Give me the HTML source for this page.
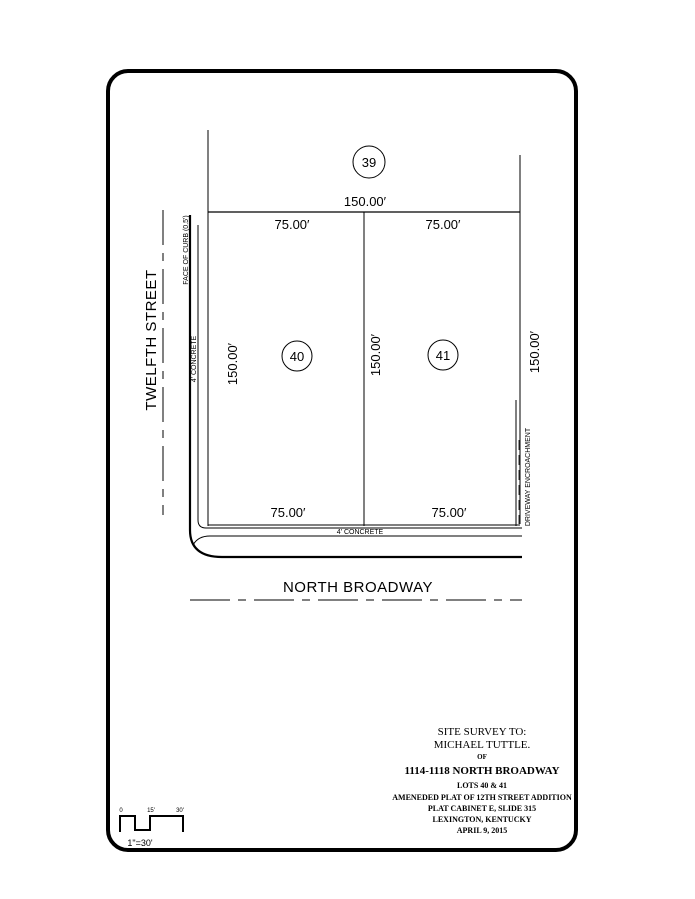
<!DOCTYPE html>
<html><head><style>body{margin:0;background:#fff}svg{display:block}</style></head>
<body>
<svg width="695" height="899" viewBox="0 0 695 899" xmlns="http://www.w3.org/2000/svg" font-family="Liberation Sans, sans-serif">
<rect x="108" y="71" width="468" height="779" rx="20" fill="none" stroke="#000" stroke-width="4"/>
<g stroke="#000" fill="none">
<line x1="208" y1="130" x2="208" y2="526" stroke-width="1"/>
<line x1="520" y1="155" x2="520" y2="524" stroke-width="1"/>
<line x1="208" y1="212" x2="520" y2="212" stroke-width="1.3"/>
<line x1="364" y1="212" x2="364" y2="526" stroke-width="1"/>
<line x1="208" y1="525" x2="520" y2="525" stroke-width="1"/>
<path d="M190 215 V530 Q190 557 222 557 H522" stroke-width="2.2"/>
<path d="M198 225 V520 Q198 528 206 528 H522" stroke-width="1"/>
<path d="M193 545 Q198 536 210 536 H522" stroke-width="1"/>
<line x1="516" y1="400" x2="516" y2="526" stroke-width="1"/>
<line x1="519" y1="440" x2="519" y2="524" stroke-width="0.8" stroke-dasharray="10,5"/>
<line x1="163" y1="210" x2="163" y2="515" stroke-width="1" stroke-dasharray="35,8,8,8"/>
<line x1="190" y1="600" x2="522" y2="600" stroke-width="1" stroke-dasharray="40,8,8,8"/>
<circle cx="369" cy="162" r="16" stroke-width="1"/>
<circle cx="297" cy="356" r="15" stroke-width="1"/>
<circle cx="443" cy="355" r="15" stroke-width="1"/>
<path d="M120 832 V816 H135 V830 H150 V816 H183 V832" stroke-width="2"/>
</g>
<g font-size="13" text-anchor="middle" fill="#000">
<text x="369" y="167">39</text>
<text x="297" y="361">40</text>
<text x="443" y="360">41</text>
<text x="365" y="206">150.00′</text>
<text x="292" y="229">75.00′</text>
<text x="443" y="229">75.00′</text>
<text x="288" y="517">75.00′</text>
<text x="449" y="517">75.00′</text>
<text transform="translate(237,364) rotate(-90)">150.00′</text>
<text transform="translate(380,355) rotate(-90)">150.00′</text>
<text transform="translate(539,352) rotate(-90)">150.00′</text>
<text x="358" y="592" font-size="15" letter-spacing="0.5">NORTH  BROADWAY</text>
<text transform="translate(156,340) rotate(-90)" font-size="15" letter-spacing="0.5">TWELFTH  STREET</text>
<text transform="translate(188,250) rotate(-90)" font-size="7">FACE OF CURB (0.5')</text>
<text transform="translate(196,359) rotate(-90)" font-size="7">4' CONCRETE</text>
<text x="360" y="534" font-size="7">4' CONCRETE</text>
<text transform="translate(530,477) rotate(-90)" font-size="7">DRIVEWAY ENCROACHMENT</text>
<text x="121" y="812" font-size="6">0</text>
<text x="151" y="812" font-size="6">15'</text>
<text x="180" y="812" font-size="6">30'</text>
<text x="140" y="846" font-size="9">1"=30'</text>
</g>
<g font-family="Liberation Serif, serif" text-anchor="middle" fill="#000" font-weight="bold">
<text x="482" y="735" font-size="11" font-weight="normal">SITE SURVEY TO:</text>
<text x="482" y="748" font-size="11" font-weight="normal">MICHAEL TUTTLE.</text>
<text x="482" y="759" font-size="7">OF</text>
<text x="482" y="774" font-size="11">1114-1118 NORTH BROADWAY</text>
<text x="482" y="788" font-size="8">LOTS 40 &amp; 41</text>
<text x="482" y="800" font-size="8">AMENEDED PLAT OF 12TH STREET ADDITION</text>
<text x="482" y="811" font-size="8">PLAT CABINET E, SLIDE 315</text>
<text x="482" y="822" font-size="8">LEXINGTON, KENTUCKY</text>
<text x="482" y="833" font-size="8">APRIL 9, 2015</text>
</g>
</svg>
</body></html>
